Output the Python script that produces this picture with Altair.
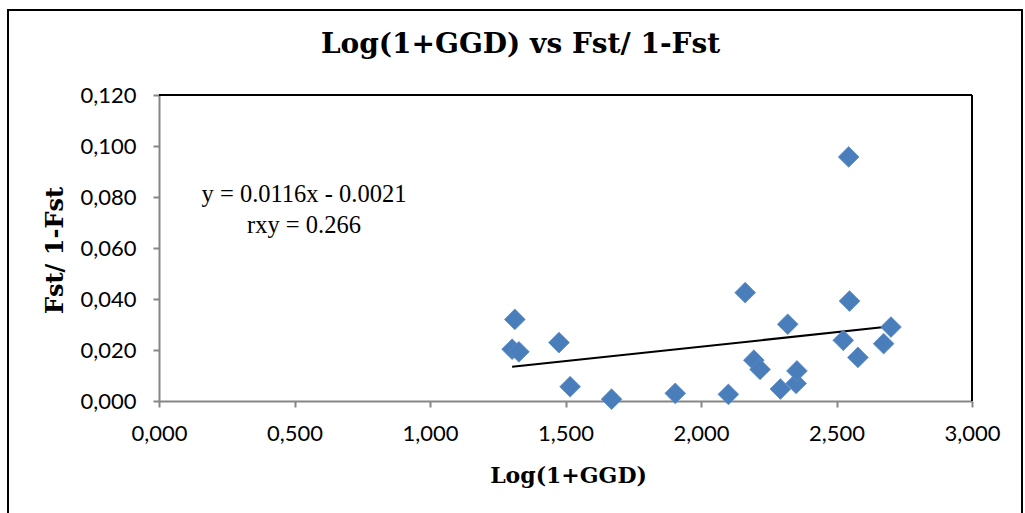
import altair as alt
import pandas as pd

# Scatter data
x_vals = [1.313, 1.303, 1.328, 1.476, 1.517, 1.670, 1.905, 2.101, 2.163, 2.195, 2.218,
          2.293, 2.320, 2.351, 2.354, 2.525, 2.545, 2.548, 2.579, 2.674, 2.701]
y_vals = [0.0320, 0.0203, 0.0193, 0.0229, 0.0056, 0.0007, 0.0030, 0.0026, 0.0425, 0.0160, 0.0124,
          0.0047, 0.0301, 0.0069, 0.0118, 0.0238, 0.0957, 0.0392, 0.0171, 0.0225, 0.0290]

# Trend line endpoints
trend_x = [1.303, 2.703]
trend_y = [0.0134, 0.0293]

# Annotation
ann_x = [0.535, 0.535]
ann_y = [0.0808, 0.0686]
ann_text = ["y = 0.0116x - 0.0021", "rxy = 0.266"]

x_ticks = [0.0, 0.5, 1.0, 1.5, 2.0, 2.5, 3.0]
y_ticks = [0.0, 0.02, 0.04, 0.06, 0.08, 0.10, 0.12]

W, H = 813, 306
PAD_L, PAD_T = 159, 95

pts = pd.DataFrame({"x": x_vals, "y": y_vals})
trend = pd.DataFrame({"x": trend_x, "y": trend_y})
ann = pd.DataFrame({"x": ann_x, "y": ann_y, "t": ann_text})

label_expr = "replace(format(datum.value, '.3f'), '.', ',')"
xscale = alt.Scale(domain=[0, 3], nice=False, zero=False)
yscale = alt.Scale(domain=[0, 0.12], nice=False, zero=False)

xaxis = alt.Axis(values=x_ticks, labelExpr=label_expr, grid=False, labelFlush=False,
                 domainColor="#868686", domainWidth=2, tickColor="#868686", tickWidth=2, tickSize=6,
                 labelFont="Lato", labelFontSize=22, labelColor="#000000", labelPadding=16,
                 title="Log(1+GGD)", titleFont="DejaVu Serif", titleFontSize=22, titleFontWeight="bold",
                 titleColor="#000000", titleX=409, titleY=74, titleBaseline="middle", titleAnchor="middle")
yaxis = alt.Axis(values=y_ticks, labelExpr=label_expr, grid=False, labelFlush=False,
                 domainColor="#868686", domainWidth=2, tickColor="#868686", tickWidth=2, tickSize=6,
                 labelFont="Lato", labelFontSize=22, labelColor="#000000", labelPadding=17,
                 title="Fst/ 1-Fst", titleFont="DejaVu Serif", titleFontSize=24, titleFontWeight="bold",
                 titleColor="#000000", titleX=-104, titleY=155, titleBaseline="middle", titleAngle=-90)

points = alt.Chart(pts).mark_point(shape="diamond", filled=True, size=430, color="#4A7EBB",
                                   opacity=1, stroke="#5B8CC8", strokeWidth=0.8).encode(
    x=alt.X("x:Q", scale=xscale, axis=xaxis),
    y=alt.Y("y:Q", scale=yscale, axis=yaxis),
)

line = alt.Chart(trend).mark_line(color="#000000", strokeWidth=2).encode(
    x=alt.X("x:Q", scale=xscale), y=alt.Y("y:Q", scale=yscale))

text = alt.Chart(ann).mark_text(font="Liberation Serif", fontSize=24.5, color="#000000",
                                align="center", baseline="middle").encode(
    x=alt.X("x:Q", scale=xscale), y=alt.Y("y:Q", scale=yscale), text="t:N")

top_rule = alt.Chart(pts).mark_rule(color="#000000", strokeWidth=2).encode(
    x=alt.value(0), x2=alt.value(W), y=alt.value(0))
right_rule = alt.Chart(pts).mark_rule(color="#000000", strokeWidth=2).encode(
    x=alt.value(W), y=alt.value(0), y2=alt.value(H))

frame = alt.Chart(pts).mark_rect(fill=None, stroke="#000000", strokeWidth=2).encode(
    x=alt.value(8 - PAD_L), x2=alt.value(1022 - PAD_L),
    y=alt.value(10 - PAD_T), y2=alt.value(530 - PAD_T))

chart = alt.layer(frame, top_rule, right_rule, line, points, text).properties(
    width=W, height=H,
    title=alt.TitleParams("Log(1+GGD) vs Fst/ 1-Fst", font="DejaVu Serif", fontSize=28,
                          fontWeight="bold", color="#000000", anchor="middle", frame="group",
                          dx=-45, offset=-72, baseline="alphabetic"),
    autosize=alt.AutoSizeParams(type="none"),
    padding={"left": PAD_L, "top": PAD_T, "right": 1025 - PAD_L - W, "bottom": 513 - PAD_T - H},
).configure_view(stroke=None).configure(background="#ffffff")

chart.save("out.html", embed_options={"renderer": "svg", "actions": False})
